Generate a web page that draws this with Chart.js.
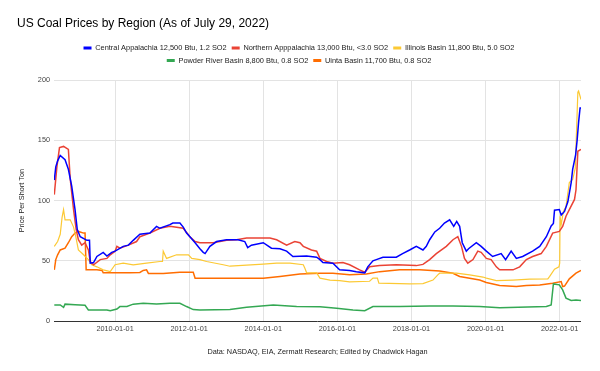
<!DOCTYPE html>
<html>
<head>
<meta charset="utf-8">
<script src="https://cdn.jsdelivr.net/npm/chart.js@4.4.0/dist/chart.umd.min.js"></script>
<style>
  html, body { margin: 0; padding: 0; background: #ffffff; }
  #wrap { width: 600px; height: 371px; }
</style>
</head>
<body>
<div id="wrap"><canvas id="c" width="600" height="371"></canvas></div>
<script>
// ---------------- DATA (x = decimal year, y = price per short ton) ----------------
const chartTitle = "US Coal Prices by Region (As of July 29, 2022)";
const yAxisTitle = "Price Per Short Ton";
const sourceNote = "Data: NASDAQ, EIA, Zermatt Research; Edited by Chadwick Hagan";

const seriesNames = [
  "Central Appalachia 12,500 Btu, 1.2 SO2",
  "Northern Apppalachia 13,000 Btu, <3.0 SO2",
  "Illinois Basin 11,800 Btu, 5.0 SO2",
  "Powder River Basin 8,800 Btu, 0.8 SO2",
  "Uinta Basin 11,700 Btu, 0.8 SO2"
];

const xTickYears = [2010, 2012, 2014, 2016, 2018, 2020, 2022];
const yTickValues = [0, 50, 100, 150, 200];
const xStart = 2008.352;   // 2008-05-09
const xEnd = 2022.575;     // 2022-07-29

const centralAppalachia = [
  [2008.36,117],[2008.40,128],[2008.45,133],[2008.52,137.5],[2008.65,134],[2008.74,126],[2008.83,112],
  [2008.92,92.5],[2008.98,76],[2009.06,70],[2009.24,67],[2009.31,67],[2009.33,48],[2009.42,48.5],
  [2009.51,53.6],[2009.68,57],[2009.78,54],[2009.91,57],[2010.00,58],[2010.22,62],[2010.36,63],
  [2010.49,67],[2010.67,72],[2010.94,73],[2011.12,78.6],[2011.21,77],[2011.48,80],[2011.56,81.4],
  [2011.75,81.4],[2011.84,78],[2011.93,73],[2012.02,70],[2012.16,65],[2012.29,60],[2012.38,57],
  [2012.43,56],[2012.56,62],[2012.74,66],[2013.01,67.5],[2013.32,67.5],[2013.50,66],[2013.58,61],
  [2013.68,63],[2014.00,65],[2014.22,60.5],[2014.45,60],[2014.63,58],[2014.80,53.6],[2015.17,54],
  [2015.44,53],[2015.53,51],[2015.61,48.6],[2015.88,48],[2016.06,42.5],[2016.33,42],[2016.51,41],
  [2016.74,40],[2016.82,45],[2016.96,50],[2017.05,51],[2017.23,53],[2017.59,53],[2017.76,56],
  [2017.95,59],[2018.13,62],[2018.31,59],[2018.40,62],[2018.49,67.5],[2018.63,74],[2018.76,77],
  [2018.89,81.4],[2019.03,84],[2019.14,78.6],[2019.22,82.7],[2019.30,78.6],[2019.37,65],[2019.48,58],
  [2019.54,60],[2019.75,65],[2019.88,62],[2020.02,58],[2020.19,53.6],[2020.42,56],[2020.54,51],
  [2020.69,58],[2020.83,52],[2021.00,53.6],[2021.27,58],[2021.46,62],[2021.64,70],[2021.77,79],
  [2021.83,81],[2021.86,92],[2021.99,92.5],[2022.04,88],[2022.13,91],[2022.22,99],[2022.31,115],
  [2022.35,126],[2022.43,138],[2022.47,150],[2022.51,165],[2022.55,177],[2022.575,177]
];

const northernAppalachia = [
  [2008.36,105],[2008.43,128],[2008.50,144],[2008.61,145],[2008.74,142.5],[2008.79,118],[2008.88,92.5],
  [2008.95,76],[2009.01,67.5],[2009.10,63],[2009.19,65],[2009.28,59],[2009.33,49.4],[2009.42,46.7],
  [2009.60,51],[2009.78,52],[2009.87,55],[2010.00,58],[2010.05,62],[2010.13,60.5],[2010.36,63],
  [2010.58,66],[2010.67,70],[2010.94,73],[2011.21,77],[2011.48,78.6],[2011.84,77],[2012.02,70],
  [2012.16,66],[2012.29,65],[2012.65,65],[2013.01,67],[2013.28,67.5],[2013.55,69],[2014.18,69],
  [2014.36,67.5],[2014.63,63],[2014.85,66],[2014.99,65],[2015.08,62],[2015.30,59],[2015.44,58],
  [2015.53,52],[2015.71,49.4],[2015.88,48],[2016.15,48.6],[2016.33,46.7],[2016.60,42.5],[2016.74,40.5],
  [2016.87,45],[2017.14,46],[2017.59,46.7],[2018.13,46],[2018.31,47],[2018.49,51],[2018.67,56],
  [2018.94,62],[2019.12,67.5],[2019.25,70],[2019.35,62],[2019.43,52],[2019.52,48],[2019.66,51],
  [2019.79,58],[2019.88,57],[2020.02,52],[2020.15,51],[2020.29,45],[2020.38,42.5],[2020.74,42.5],
  [2020.92,45],[2021.10,51],[2021.27,53.6],[2021.50,56],[2021.64,62],[2021.81,73],[2021.99,74.4],
  [2022.08,78.6],[2022.17,87],[2022.26,92.5],[2022.40,101],[2022.44,109],[2022.49,141],[2022.575,142.5]
];

const illinoisBasin = [
  [2008.36,62],[2008.45,66],[2008.52,72],[2008.57,86],[2008.61,92.5],[2008.65,84],[2008.79,84],
  [2008.88,78],[2008.94,70],[2009.01,59],[2009.15,55],[2009.28,51],[2009.37,46.7],[2009.51,45],
  [2009.68,42.5],[2009.87,41],[2010.00,46.7],[2010.22,48],[2010.49,46.7],[2010.85,48],[2011.21,49.4],
  [2011.28,49.4],[2011.30,58],[2011.39,52],[2011.66,55],[2011.98,55],[2012.07,52],[2012.29,51],
  [2012.47,49.4],[2012.92,46.7],[2013.10,45.5],[2014.00,47.3],[2014.36,48],[2014.72,48],[2015.08,46.7],
  [2015.12,44],[2015.17,40],[2015.44,40],[2015.53,35.6],[2015.80,34],[2016.06,33.5],[2016.33,32.5],
  [2016.87,33],[2016.96,35.6],[2017.08,35.6],[2017.12,31.4],[2017.68,31],[2017.95,30.8],[2018.31,31],
  [2018.58,34],[2018.71,38.3],[2018.76,39.7],[2019.21,39.7],[2019.57,38.3],[2019.93,36.5],[2020.02,35.6],
  [2020.29,33.6],[2020.74,34],[2021.19,34.7],[2021.68,35],[2021.73,37],[2021.86,43],[2021.98,45],
  [2022.00,48],[2022.01,87],[2022.04,80],[2022.10,91],[2022.17,95],[2022.26,115],[2022.35,117.5],
  [2022.42,127],[2022.49,190],[2022.51,191],[2022.575,184]
];

const powderRiverBasin = [
  [2008.36,13.3],[2008.52,13.3],[2008.61,11.4],[2008.65,14],[2008.92,13.5],[2009.19,13],[2009.28,9.2],
  [2009.78,9.2],[2009.87,8.5],[2010.05,10],[2010.13,12],[2010.32,12],[2010.49,14],[2010.76,14.7],
  [2011.12,14.2],[2011.48,14.7],[2011.75,14.7],[2011.93,12],[2012.11,9.5],[2012.29,9.2],[2013.10,9.5],
  [2013.55,11.4],[2014.27,13.3],[2014.90,12],[2015.53,11.8],[2015.98,10.6],[2016.42,9.2],[2016.74,8.6],
  [2016.96,12],[2017.68,12],[2018.49,12.5],[2019.12,12.5],[2019.84,12],[2020.38,11],[2021.64,12],
  [2021.77,13.3],[2021.83,30.8],[2021.99,30],[2022.08,25.8],[2022.17,19],[2022.31,17],[2022.44,17.5],
  [2022.575,17]
];

const uintaBasin = [
  [2008.36,42.5],[2008.40,51],[2008.45,55],[2008.52,59],[2008.65,60.5],[2008.74,65],[2008.83,70],
  [2008.92,73],[2009.01,74.4],[2009.15,73],[2009.19,73],[2009.22,42.5],[2009.51,42.5],[2009.65,42],
  [2009.68,40],[2010.40,40],[2010.67,40.3],[2010.76,42],[2010.85,42.5],[2010.90,39.5],[2011.30,39.5],
  [2011.75,40.4],[2012.11,40.4],[2012.16,35.6],[2014.00,35.6],[2014.45,37],[2014.99,39],[2015.53,39.7],
  [2015.88,39.7],[2016.33,38.5],[2016.78,39],[2017.14,41],[2017.68,42.5],[2018.22,42.5],[2018.76,41.5],
  [2019.12,39.7],[2019.30,37],[2019.84,34],[2020.02,32],[2020.38,29.5],[2020.83,28.6],[2021.10,29.5],
  [2021.46,30],[2021.81,31.4],[2022.04,32.8],[2022.08,28.6],[2022.13,29],[2022.26,35],[2022.44,39.7],
  [2022.575,42]
];

const seriesColors = ["#0000ff", "#ea4335", "#fcc934", "#34a853", "#ff6d01"];
// -------------------------------------------------------------------------------

const FONT = "'Liberation Sans', Arial, sans-serif";
Chart.defaults.font.family = FONT;

const allSeries = [centralAppalachia, northernAppalachia, illinoisBasin, powderRiverBasin, uintaBasin];

const datasets = allSeries.map((s, i) => ({
  label: seriesNames[i],
  data: s.map(([x, y]) => ({ x, y })),
  borderColor: seriesColors[i],
  backgroundColor: seriesColors[i],
  borderWidth: i === 2 ? 1.2 : 1.5,
  pointRadius: 0,
  tension: 0,
  fill: false
}));

const legendGap = {
  id: 'legendGap',
  beforeInit(chart) {
    if (!chart.legend) return;
    const origFit = chart.legend.fit;
    chart.legend.fit = function () {
      origFit.call(this);
      this.height += 6;
    };
  }
};

new Chart(document.getElementById('c'), {
  type: 'line',
  data: { datasets },
  plugins: [legendGap],
  options: {
    responsive: false,
    animation: false,
    devicePixelRatio: 1,
    parsing: true,
    layout: { padding: { top: 10, left: 17, right: 19, bottom: 0 } },
    plugins: {
      title: {
        display: true,
        text: chartTitle,
        align: 'start',
        color: '#000000',
        font: { family: FONT, size: 12, weight: 'normal' },
        padding: { top: 6, bottom: 9 }
      },
      legend: {
        display: true,
        position: 'top',
        align: 'center',
        labels: {
          boxWidth: 8,
          boxHeight: 3,
          padding: 5,
          color: '#222222',
          font: { family: FONT, size: 7.4 },
          generateLabels(chart) {
            const items = Chart.defaults.plugins.legend.labels.generateLabels(chart);
            return items.map(it => ({ ...it, lineWidth: 0, fillStyle: it.strokeStyle }));
          }
        }
      },
      tooltip: { enabled: false }
    },
    scales: {
      x: {
        type: 'linear',
        min: xStart,
        max: xEnd,
        afterFit(scale) { scale.height = 50; },
        afterBuildTicks(scale) { scale.ticks = xTickYears.map(v => ({ value: v })); },
        ticks: {
          autoSkip: false,
          maxRotation: 0,
          padding: 4,
          color: '#444444',
          font: { family: FONT, size: 7.3 },
          callback: (v) => v + '-01-01'
        },
        grid: { color: '#e3e3e3', lineWidth: 1, drawTicks: false },
        border: { display: false },
        title: {
          display: true,
          text: sourceNote,
          color: '#222222',
          font: { family: FONT, size: 7.3 },
          padding: { top: 4, bottom: 15 }
        }
      },
      y: {
        type: 'linear',
        min: 0,
        max: 200,
        afterFit(scale) { scale.width = 37; },
        afterBuildTicks(scale) { scale.ticks = yTickValues.map(v => ({ value: v })); },
        ticks: {
          padding: 4,
          color: '#444444',
          font: { family: FONT, size: 7.3 }
        },
        grid: {
          drawTicks: false,
          lineWidth: 1,
          color: (ctx) => (ctx.tick && ctx.tick.value === 0 ? '#333333' : '#e3e3e3')
        },
        border: { display: false },
        title: {
          display: true,
          text: yAxisTitle,
          color: '#222222',
          font: { family: FONT, size: 7.3 },
          padding: { top: 1, bottom: 1 }
        }
      }
    }
  }
});
</script>
</body>
</html>
